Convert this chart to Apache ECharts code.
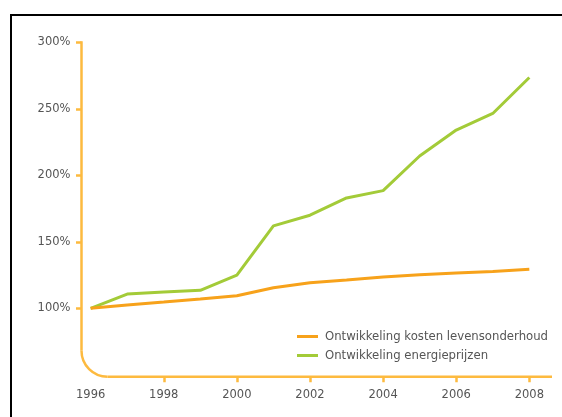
<!DOCTYPE html>
<html>
<head>
<meta charset="utf-8">
<script src="https://cdn.jsdelivr.net/npm/echarts@6/dist/echarts.min.js"></script>
<style>
  html, body { margin: 0; padding: 0; background: #fff; overflow: hidden; }
  #wrap { position: relative; width: 562px; height: 417px; overflow: hidden; }
  #chart { position: absolute; left: 0; top: 0; width: 562px; height: 417px; }
  #frame {
    position: absolute; left: 10px; top: 14px; width: 600px; height: 500px;
    border-top: 2px solid #000; border-left: 2px solid #000; pointer-events: none;
  }
</style>
</head>
<body>
<div id="wrap">
  <div id="chart"></div>
  <div id="frame"></div>
</div>
<script>
// Index (1996 = 100%) of cost of living and energy prices
const years = [1996, 1997, 1998, 1999, 2000, 2001, 2002, 2003, 2004, 2005, 2006, 2007, 2008];
const kostenLevensonderhoud = [100, 102.5, 104.7, 107, 109.5, 115.5, 119.3, 121.3, 123.5, 125.3, 126.5, 127.7, 129.3];
const energieprijzen = [100, 110.7, 112.3, 113.5, 125, 162, 170, 183, 188.5, 214.5, 234, 246.5, 273.5];
const seriesNames = ['Ontwikkeling kosten levensonderhoud', 'Ontwikkeling energieprijzen'];
const yLabelValues = [100, 150, 200, 250, 300];
const xLabelYears = [1996, 1998, 2000, 2002, 2004, 2006, 2008];
const xTickYears = [1998, 2000, 2002, 2004, 2006, 2008];

const AXIS_COLOR = '#FDBA3F';
const ORANGE = '#F7A21B';
const GREEN = '#A3CB38';
const TEXT_COLOR = '#555555';
const FONT = '"DejaVu Sans", sans-serif';

const X_MIN = 1995.75, X_MAX = 2008.62;
const Y_MIN = 48.6, Y_MAX = 300;

const chart = echarts.init(document.getElementById('chart'), null, { renderer: 'canvas' });

chart.setOption({
  animation: false,
  backgroundColor: '#ffffff',
  grid: { left: 81.5, right: 10, top: 42.3, bottom: 40.3, containLabel: false },
  legend: {
    orient: 'vertical',
    left: 297,
    top: 329.5,
    padding: 0,
    icon: 'rect',
    itemWidth: 21,
    itemHeight: 3,
    itemGap: 5,
    textStyle: { fontFamily: FONT, fontSize: 11.7, color: TEXT_COLOR, padding: [0, 0, 0, 2], lineHeight: 14 },
    data: seriesNames
  },
  xAxis: {
    type: 'value',
    min: X_MIN,
    max: X_MAX,
    splitLine: { show: false },
    axisLine: { show: false },
    axisTick: {
      show: true,
      length: 5.5,
      customValues: xTickYears,
      lineStyle: { color: AXIS_COLOR, width: 2.5 }
    },
    axisLabel: {
      customValues: xLabelYears,
      margin: 12,
      fontFamily: FONT,
      fontSize: 11.5,
      color: TEXT_COLOR,
      formatter: v => String(v)
    }
  },
  yAxis: {
    type: 'value',
    min: Y_MIN,
    max: Y_MAX,
    splitLine: { show: false },
    axisLine: { show: false },
    axisTick: {
      show: true,
      length: 5.5,
      customValues: yLabelValues,
      lineStyle: { color: AXIS_COLOR, width: 2.5 }
    },
    axisLabel: {
      customValues: yLabelValues,
      margin: 11,
      fontFamily: FONT,
      fontSize: 11.5,
      color: TEXT_COLOR,
      formatter: v => v + '%'
    }
  },
  series: [
    {
      name: seriesNames[0],
      type: 'line',
      symbol: 'none',
      z: 3,
      lineStyle: { color: ORANGE, width: 3 },
      itemStyle: { color: ORANGE },
      data: years.map((y, i) => [y, kostenLevensonderhoud[i]])
    },
    {
      name: seriesNames[1],
      type: 'line',
      symbol: 'none',
      z: 2,
      lineStyle: { color: GREEN, width: 3 },
      itemStyle: { color: GREEN },
      data: years.map((y, i) => [y, energieprijzen[i]])
    }
  ]
});

// Axis lines joined by a rounded corner at the origin
function drawAxes() {
  const topLeft = chart.convertToPixel({ gridIndex: 0 }, [X_MIN, Y_MAX]);
  const corner = chart.convertToPixel({ gridIndex: 0 }, [X_MIN, Y_MIN]);
  const right = chart.convertToPixel({ gridIndex: 0 }, [X_MAX, Y_MIN]);
  const r = 26;
  const x0 = corner[0], yB = corner[1];
  const axisStyle = { fill: null, stroke: AXIS_COLOR, lineWidth: 2.5 };
  chart.setOption({
    graphic: [
      {
        type: 'line', id: 'yAxisLine', z: 1,
        shape: { x1: x0, y1: topLeft[1] - 1, x2: x0, y2: yB - r },
        style: axisStyle
      },
      {
        type: 'arc', id: 'axisCorner', z: 1,
        shape: { cx: x0 + r, cy: yB - r, r: r, startAngle: Math.PI / 2, endAngle: Math.PI, clockwise: true },
        style: axisStyle
      },
      {
        type: 'line', id: 'xAxisLine', z: 1,
        shape: { x1: x0 + r, y1: yB, x2: right[0], y2: yB },
        style: axisStyle
      }
    ]
  });
}
drawAxes();
</script>
</body>
</html>
